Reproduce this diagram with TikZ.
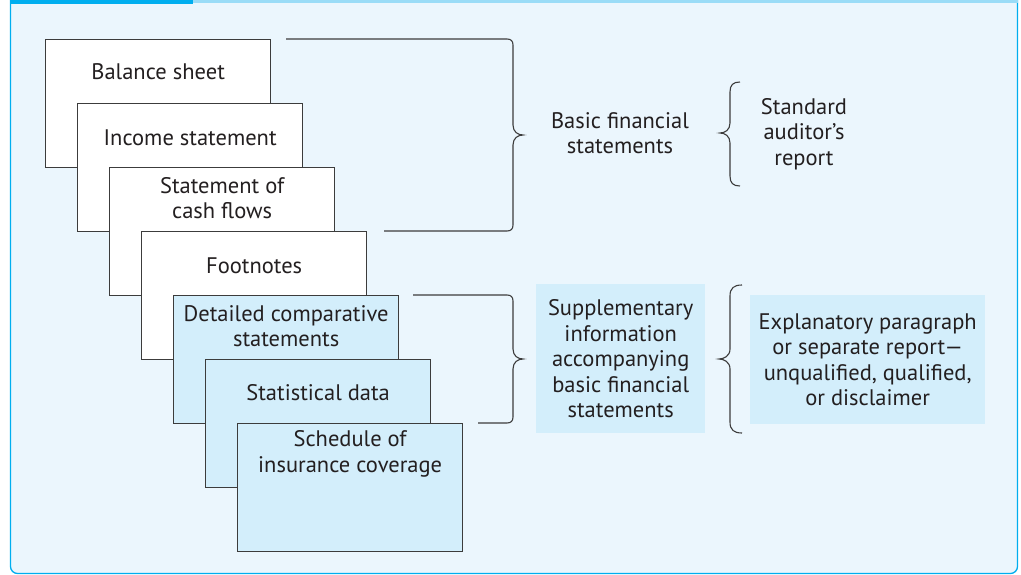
\documentclass[tikz,border=0pt]{standalone}
\usepackage{fontspec}
\setmainfont{PT Sans}
\usetikzlibrary{calc}
\definecolor{panelbg}{HTML}{EBF6FD}
\definecolor{boxblue}{HTML}{D3EEFB}
\definecolor{cyanline}{HTML}{00AEEF}
\definecolor{lightcyan}{HTML}{9ADCF7}
\definecolor{txt}{HTML}{231F20}
\definecolor{edge}{HTML}{3C3C3C}
\tikzset{
  x=1pt, y=1pt,
  sheet/.style={draw=edge, line width=1.3pt, anchor=north west, minimum width=225pt, minimum height=128pt, inner sep=0pt},
  whitesheet/.style={sheet, fill=white},
  bluesheet/.style={sheet, fill=boxblue},
  lbl/.style={text=txt, font=\fontsize{22.5}{25.5}\selectfont, align=center, inner sep=0pt},
  brace/.style={draw=edge, line width=1.1pt},
  infobox/.style={fill=boxblue, inner sep=0pt, anchor=north west},
}
\begin{document}
\begin{tikzpicture}
\useasboundingbox (0,0) rectangle (1021,-575);
% panel
\path[fill=panelbg, draw=cyanline, line width=1.3pt, rounded corners=7] (10.5,0) -- (10.5,-573.5) -- (1017.5,-573.5) -- (1017.5,0);
\fill[cyanline] (10,0) rectangle (193,-3.6);
\fill[lightcyan] (193,0) rectangle (1018,-3);
% sheets
\node[whitesheet] (s1) at (45,-39) {};
\node[lbl] (t1) at ($(s1.north)+(0,-33)$) {Balance sheet};
\node[whitesheet] (s2) at (77,-103) {};
\node[lbl] (t2) at ($(s2.north)+(0,-35)$) {Income statement};
\node[whitesheet] (s3) at (109,-167) {};
\node[lbl] (t3) at ($(s3.north)+(0,-31)$) {Statement of\\cash flows};
\node[whitesheet] (s4) at (141,-231) {};
\node[lbl] (t4) at ($(s4.north)+(0,-35)$) {Footnotes};
\node[bluesheet] (s5) at (173,-295) {};
\node[lbl] (t5) at ($(s5.north)+(0,-31)$) {Detailed comparative\\statements};
\node[bluesheet] (s6) at (205,-359) {};
\node[lbl] (t6) at ($(s6.north)+(0,-34)$) {Statistical data};
\node[bluesheet] (s7) at (237,-423) {};
\node[lbl] (t7) at ($(s7.north)+(0,-31)$) {Schedule of\\insurance coverage};
% info boxes
\node[infobox, minimum width=169pt, minimum height=149pt] (sup) at (536,-284) {};
\node[lbl] (supt) at (sup.center) {Supplementary\\information\\accompanying\\basic financial\\statements};
\node[infobox, minimum width=235pt, minimum height=129pt] (exp) at (750,-295) {};
\node[lbl] (expt) at (exp.center) {Explanatory paragraph\\or separate report---\\unqualified, qualified,\\or disclaimer};
\node[lbl] (basic) at (620,-133) {Basic financial\\statements};
\node[lbl] (std) at (804,-134) {Standard\\auditor’s\\report};
% braces
\draw[brace] (286,-39) -- (507,-39) .. controls (511,-39) and (513,-41) .. (513,-45) -- (513,-125)
  .. controls (513,-132) and (518,-135) .. (523,-135) .. controls (518,-135) and (513,-138) .. (513,-145)
  -- (513,-225) .. controls (513,-229) and (511,-231) .. (507,-231) -- (384,-231);
\draw[brace] (413,-295) -- (507,-295) .. controls (511,-295) and (513,-297) .. (513,-301) -- (513,-349)
  .. controls (513,-356) and (518,-359) .. (523,-359) .. controls (518,-359) and (513,-362) .. (513,-369)
  -- (513,-417) .. controls (513,-421) and (511,-423) .. (507,-423) -- (478,-423);
\draw[brace] (740,-82) .. controls (733,-82) and (730,-85) .. (730,-92) -- (730,-123)
  .. controls (730,-130) and (725,-133) .. (720,-133) .. controls (725,-133) and (730,-136) .. (730,-143)
  -- (730,-176) .. controls (730,-183) and (733,-186) .. (740,-186);
\draw[brace] (742,-285) .. controls (734,-285) and (730,-288) .. (730,-296) -- (730,-349)
  .. controls (730,-356) and (724,-359) .. (719,-359) .. controls (724,-359) and (730,-362) .. (730,-369)
  -- (730,-422) .. controls (730,-430) and (734,-433) .. (742,-433);
\end{tikzpicture}
\end{document}
